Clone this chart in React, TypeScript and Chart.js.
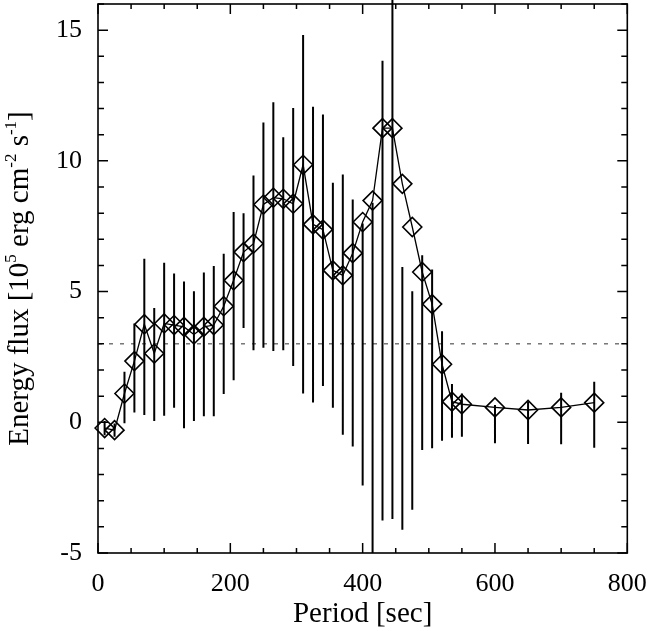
import { useEffect, useRef } from "react"
import { Chart, registerables, Plugin } from "chart.js"

Chart.register(...registerables)

// period [sec] of each sample
const periods = [
  10, 25, 40, 55, 70, 85, 100, 115, 130, 145, 160, 175, 190, 205, 220, 235, 250, 265, 280,
  295, 310, 325, 340, 355, 370, 385, 400, 415, 430, 445, 460, 475, 490, 505, 520, 535, 550,
  600, 650, 700, 750,
]

// energy flux [1e5 erg cm^-2 s^-1]
const flux = [
  -0.22, -0.3, 1.1, 2.34, 3.75, 2.63, 3.78, 3.72, 3.65, 3.36, 3.65, 3.72, 4.44, 5.43, 6.51,
  6.83, 8.33, 8.59, 8.55, 8.36, 9.85, 7.57, 7.37, 5.81, 5.62, 6.47, 7.66, 8.48, 11.25, 11.25,
  9.12, 7.47, 5.75, 4.52, 2.22, 0.79, 0.69, 0.57, 0.47, 0.57, 0.75,
]

// upper end of each error bar
const fluxHigh = [
  0.05, -0.05, 1.93, 3.78, 6.26, 4.37, 6.1, 5.69, 5.39, 5.01, 5.73, 5.98, 6.45, 8.04, 8.0,
  9.44, 11.47, 12.24, 10.9, 12.02, 14.81, 12.07, 11.77, 9.16, 9.48, 8.52, 7.6, 8.4, 13.83,
  16.2, 5.94, 5.01, 6.39, 5.84, 3.48, 1.46, 1.1, 0.66, 0.79, 1.13, 1.55,
]

// lower end of each error bar
const fluxLow = [
  -0.5, -0.55, -0.04, 0.37, 0.28, 0.05, 0.25, 0.56, -0.23, 0.05, 0.23, 0.23, 1.08, 1.61, 3.61,
  2.76, 2.85, 2.73, 2.76, 2.15, 1.1, 0.76, 1.39, 0.56, -0.48, -0.93, -2.42, -5.0, -3.76, -3.7,
  -4.11, -3.35, -1.06, -0.99, -0.71, -0.59, -0.55, -0.8, -0.83, -0.84, -0.97,
]

const threshold = 3

const xMajorStep = 200
const xMinorStep = 50
const yMajorStep = 5
const yMinorStep = 1

const xTitle = "Period [sec]"
const yTitleParts: [string, boolean][] = [
  ["Energy flux [10", false],
  ["5", true],
  [" erg cm", false],
  ["-2", true],
  [" s", false],
  ["-1", true],
  ["]", false],
]

const FONT = "'Liberation Serif', 'Times New Roman', serif"

const decorations: Plugin<"line"> = {
  id: "decorations",
  beforeDatasetsDraw(chart) {
    const { ctx, chartArea: a } = chart
    const x = chart.scales.x
    const y = chart.scales.y
    ctx.save()

    // dashed reference line
    const ty = y.getPixelForValue(threshold)
    ctx.strokeStyle = "#333"
    ctx.lineWidth = 1
    ctx.setLineDash([4, 7])
    ctx.beginPath()
    ctx.moveTo(a.left, ty)
    ctx.lineTo(a.right, ty)
    ctx.stroke()

    // error bars
    ctx.setLineDash([])
    ctx.strokeStyle = "#000"
    ctx.lineWidth = 2
    ctx.beginPath()
    periods.forEach((p, i) => {
      const px = x.getPixelForValue(p)
      ctx.moveTo(px, y.getPixelForValue(fluxLow[i]))
      ctx.lineTo(px, y.getPixelForValue(fluxHigh[i]))
    })
    ctx.stroke()
    ctx.restore()
  },
  afterDraw(chart) {
    const { ctx, chartArea: a } = chart
    const x = chart.scales.x
    const y = chart.scales.y
    ctx.save()
    ctx.strokeStyle = "#000"
    ctx.lineWidth = 1.6
    ctx.strokeRect(a.left, a.top, a.right - a.left, a.bottom - a.top)

    // inward ticks on all four sides
    ctx.lineWidth = 1.5
    ctx.beginPath()
    for (let v = x.min; v <= x.max; v += xMinorStep) {
      const len = v % xMajorStep === 0 ? 10 : 5
      const px = x.getPixelForValue(v)
      ctx.moveTo(px, a.bottom)
      ctx.lineTo(px, a.bottom - len)
      ctx.moveTo(px, a.top)
      ctx.lineTo(px, a.top + len)
    }
    for (let v = y.min; v <= y.max; v += yMinorStep) {
      const len = v % yMajorStep === 0 ? 10 : 6
      const py = y.getPixelForValue(v)
      ctx.moveTo(a.left, py)
      ctx.lineTo(a.left + len, py)
      ctx.moveTo(a.right, py)
      ctx.lineTo(a.right - len, py)
    }
    ctx.stroke()

    // axis titles
    ctx.fillStyle = "#000"
    ctx.textBaseline = "alphabetic"
    ctx.textAlign = "center"
    ctx.font = `29px ${FONT}`
    ctx.fillText(xTitle, (a.left + a.right) / 2, a.bottom + 69)

    ctx.translate(a.left - 70.5, (a.top + a.bottom) / 2)
    ctx.rotate(-Math.PI / 2)
    ctx.textAlign = "left"
    const fontFor = (sup: boolean) => (sup ? `17px ${FONT}` : `29px ${FONT}`)
    let total = 0
    yTitleParts.forEach(([t, sup]) => {
      ctx.font = fontFor(sup)
      total += ctx.measureText(t).width
    })
    let cx = -total / 2
    yTitleParts.forEach(([t, sup]) => {
      ctx.font = fontFor(sup)
      ctx.fillText(t, cx, sup ? -12 : 0)
      cx += ctx.measureText(t).width
    })
    ctx.restore()
  },
}

// drop the extra room Chart.js keeps for end labels so the plot box lands where it should
const noPadding = (s: any) => {
  s.paddingTop = 0
  s.paddingBottom = 0
  s.paddingLeft = 0
  s.paddingRight = 0
}

export default function App() {
  const canvasRef = useRef<HTMLCanvasElement | null>(null)
  const chartRef = useRef<Chart<"line"> | null>(null)

  useEffect(() => {
    if (!canvasRef.current) return
    const ctx = canvasRef.current.getContext("2d")
    if (!ctx) return
    if (chartRef.current) chartRef.current.destroy()

    chartRef.current = new Chart(ctx, {
      type: "line",
      data: {
        datasets: [
          {
            data: periods.map((p, i) => ({ x: p, y: flux[i] })),
            borderColor: "#000",
            borderWidth: 1.3,
            tension: 0,
            pointStyle: "rectRot",
            pointRadius: 9.5,
            pointBorderWidth: 1.6,
            pointBorderColor: "#000",
            pointBackgroundColor: "rgba(0,0,0,0)",
            clip: false,
          },
        ],
      },
      options: {
        animation: false,
        responsive: false,
        events: [],
        layout: { autoPadding: false, padding: { top: 4, right: 22.7, left: 0, bottom: 0 } },
        plugins: { legend: { display: false }, tooltip: { enabled: false } },
        scales: {
          x: {
            type: "linear",
            min: 0,
            max: 800,
            grid: { display: false, drawTicks: false },
            border: { display: false },
            ticks: {
              stepSize: xMajorStep,
              autoSkip: false,
              maxRotation: 0,
              padding: 16,
              color: "#000",
              font: { family: FONT, size: 26 },
            },
            afterFit: (s) => {
              s.height = 78
              noPadding(s)
            },
          },
          y: {
            type: "linear",
            min: -5,
            max: 16,
            grid: { display: false, drawTicks: false },
            border: { display: false },
            ticks: {
              stepSize: yMajorStep,
              includeBounds: false,
              autoSkip: false,
              padding: 16,
              color: "#000",
              font: { family: FONT, size: 26 },
              callback: (v) => (Number(v) % yMajorStep === 0 ? String(v) : ""),
            },
            afterFit: (s) => {
              s.width = 98
              noPadding(s)
            },
          },
        },
      },
      plugins: [decorations],
    })

    return () => {
      if (chartRef.current) {
        chartRef.current.destroy()
        chartRef.current = null
      }
    }
  }, [])

  return (
    <div style={{ position: "fixed", left: 0, top: 0, width: 650, height: 631, background: "#fff" }}>
      <canvas ref={canvasRef} width={650} height={631} />
    </div>
  )
}
